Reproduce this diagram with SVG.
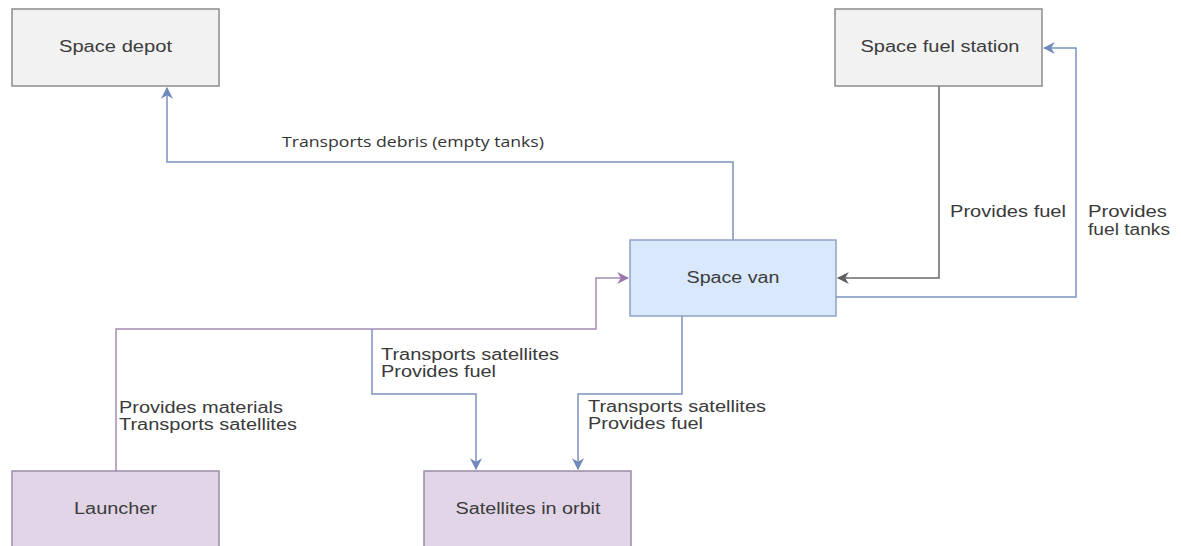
<svg xmlns="http://www.w3.org/2000/svg" width="1181" height="546" viewBox="0 0 1181 546">
  <style>
    .box-gray { fill: #f2f2f2; stroke: #8c8c8c; stroke-width: 1.5; }
    .box-blue { fill: #dae8fc; stroke: #8ea3c4; stroke-width: 1.5; }
    .box-purple { fill: #e1d5e7; stroke: #9a8ca6; stroke-width: 1.5; }
    .node-label { font-family: "Liberation Sans", Arial, sans-serif; font-size: 16px; fill: #3c3c3c; text-anchor: middle; }
    .edge-label { font-family: "Liberation Sans", Arial, sans-serif; font-size: 16px; fill: #3a3a3a; }
    .edge-label-alt { font-family: "Open Sans", "Liberation Sans", sans-serif; font-size: 15px; fill: #333333; }
    .edge { fill: none; stroke-width: 1.5; }
    .blue { stroke: #7b93bd; }
    .gray { stroke: #6a6a6a; }
    .purple { stroke: #a48bb3; }
  </style>
  <defs>
    <marker id="arrow-blue" viewBox="0 0 10 10" refX="9" refY="5" markerWidth="12" markerHeight="12" markerUnits="userSpaceOnUse" orient="auto">
      <path d="M0,0 L10,5 L0,10 L3,5 z" fill="#6f8bbb"/>
    </marker>
    <marker id="arrow-gray" viewBox="0 0 10 10" refX="9" refY="5" markerWidth="12" markerHeight="12" markerUnits="userSpaceOnUse" orient="auto">
      <path d="M0,0 L10,5 L0,10 L3,5 z" fill="#5f5f5f"/>
    </marker>
    <marker id="arrow-purple" viewBox="0 0 10 10" refX="9" refY="5" markerWidth="12" markerHeight="12" markerUnits="userSpaceOnUse" orient="auto">
      <path d="M0,0 L10,5 L0,10 L3,5 z" fill="#9a78ad"/>
    </marker>
  </defs>

  <rect x="0" y="0" width="1181" height="546" fill="#ffffff"/>

  <!-- connectors -->
  <g id="connectors">
    <path class="edge blue" d="M733,240 V162 H167 V88" marker-end="url(#arrow-blue)"/>
    <path class="edge gray" d="M939,86 V278 H838" marker-end="url(#arrow-gray)"/>
    <path class="edge blue" d="M836,297 H1076 V48 H1044" marker-end="url(#arrow-blue)"/>
    <path class="edge purple" d="M116,471 V329 H596 V278 H628" marker-end="url(#arrow-purple)"/>
    <path class="edge blue" d="M372,329 V394 H476 V469" marker-end="url(#arrow-blue)"/>
    <path class="edge blue" d="M682,316 V394 H578 V469" marker-end="url(#arrow-blue)"/>

    <text class="edge-label-alt" x="282" y="147" textLength="262" lengthAdjust="spacingAndGlyphs">Transports debris (empty tanks)</text>
    <text class="edge-label" x="950" y="217" textLength="116" lengthAdjust="spacingAndGlyphs">Provides fuel</text>
    <text class="edge-label" x="1088" y="217" textLength="79" lengthAdjust="spacingAndGlyphs">Provides</text>
    <text class="edge-label" x="1088" y="235" textLength="82" lengthAdjust="spacingAndGlyphs">fuel tanks</text>
    <text class="edge-label" x="381" y="360" textLength="178" lengthAdjust="spacingAndGlyphs">Transports satellites</text>
    <text class="edge-label" x="381" y="377" textLength="115" lengthAdjust="spacingAndGlyphs">Provides fuel</text>
    <text class="edge-label" x="119" y="413" textLength="164" lengthAdjust="spacingAndGlyphs">Provides materials</text>
    <text class="edge-label" x="119" y="430" textLength="178" lengthAdjust="spacingAndGlyphs">Transports satellites</text>
    <text class="edge-label" x="588" y="412" textLength="178" lengthAdjust="spacingAndGlyphs">Transports satellites</text>
    <text class="edge-label" x="588" y="429" textLength="115" lengthAdjust="spacingAndGlyphs">Provides fuel</text>
  </g>

  <!-- nodes -->
  <g id="space-depot">
    <rect class="box-gray" x="12" y="9" width="207" height="77"/>
    <text class="node-label" x="115.5" y="52" textLength="113" lengthAdjust="spacingAndGlyphs">Space depot</text>
  </g>
  <g id="space-fuel-station">
    <rect class="box-gray" x="835" y="9" width="207" height="77"/>
    <text class="node-label" x="940" y="52" textLength="159" lengthAdjust="spacingAndGlyphs">Space fuel station</text>
  </g>
  <g id="space-van">
    <rect class="box-blue" x="630" y="240" width="206" height="76"/>
    <text class="node-label" x="733" y="283" textLength="93" lengthAdjust="spacingAndGlyphs">Space van</text>
  </g>
  <g id="launcher">
    <rect class="box-purple" x="12" y="471" width="207" height="90"/>
    <text class="node-label" x="115.5" y="514" textLength="83" lengthAdjust="spacingAndGlyphs">Launcher</text>
  </g>
  <g id="satellites-in-orbit">
    <rect class="box-purple" x="424" y="471" width="207" height="90"/>
    <text class="node-label" x="528" y="514" textLength="145" lengthAdjust="spacingAndGlyphs">Satellites in orbit</text>
  </g>
</svg>
